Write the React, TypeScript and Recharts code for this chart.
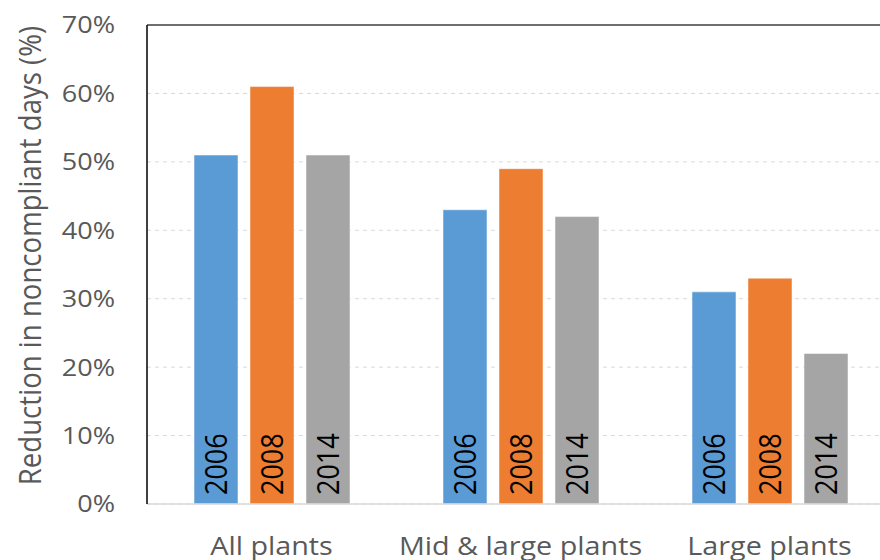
import React from 'react';
import { BarChart, Bar, XAxis, YAxis, CartesianGrid, ReferenceLine, LabelList, Label } from 'recharts';

const categories = ['All plants', 'Mid & large plants', 'Large plants'];
const years = ['2006', '2008', '2014'];
const values2006 = [51, 43, 31];
const values2008 = [61, 49, 33];
const values2014 = [51, 42, 22];
const yTicks = [0, 10, 20, 30, 40, 50, 60, 70];

const colors = ['#5b9bd5', '#ed7d31', '#a5a5a5'];
const textGray = '#595959';
const font = '"Open Sans", "DejaVu Sans", sans-serif';
// the reference is a bit wider than tall, so stretch text sideways
const SX = 1.15;

const data = categories.map((name, i) => ({
    name,
    y2006: values2006[i],
    y2008: values2008[i],
    y2014: values2014[i],
}));

const YTick: React.FC<any> = ({ x, y, payload }) => (
    <g transform={`translate(${x},${y}) scale(${SX},1)`}>
        <text x={0} y={0} dy="0.36em" textAnchor="end" fill={textGray} fontSize={23.5} fontFamily={font}>
            {`${payload.value}%`}
        </text>
    </g>
);

const XTick: React.FC<any> = ({ x, y, payload }) => (
    <g transform={`translate(${x},${y}) scale(${SX},1)`}>
        <text x={0} y={0} dy="0.71em" textAnchor="middle" fill={textGray} fontSize={25} fontFamily={font}>
            {payload.value}
        </text>
    </g>
);

const yearLabel = (year: string) => (props: any) => {
    const { x, y, width, height } = props;
    const cx = x + width / 2;
    const bottom = y + height - 9;
    return (
        <g transform={`translate(${cx},${bottom}) scale(${SX},1) rotate(-90)`}>
            <text x={0} y={0} dy="0.36em" textAnchor="start" fill="#000" fontSize={27} fontFamily={font}>
                {year}
            </text>
        </g>
    );
};

const AxisTitle: React.FC<any> = ({ viewBox }) => {
    const cx = viewBox.x + 30;
    const cy = viewBox.y + viewBox.height / 2 - 9;
    return (
        <g transform={`translate(${cx},${cy}) scale(${SX},1) rotate(-90)`}>
            <text x={0} y={0} dy="0.36em" textAnchor="middle" fill={textGray} fontSize={27.6} fontFamily={font}>
                Reduction in noncompliant days (%)
            </text>
        </g>
    );
};

const App: React.FC = () => {
    return (
        <div style={{ position: 'absolute', left: 0, top: 0, width: 880, height: 560, overflow: 'hidden', background: '#fff' }}>
            <BarChart
                width={894}
                height={560}
                data={data}
                margin={{ top: 25, right: 0, left: 0, bottom: 0 }}
                barCategoryGap={47}
                barGap={12}
            >
                <CartesianGrid vertical={false} stroke="#d9d9d9" strokeDasharray="4 4" />
                <XAxis
                    dataKey="name"
                    height={56}
                    axisLine={{ stroke: '#d9d9d9', strokeWidth: 1.5 }}
                    tickLine={false}
                    tickSize={0}
                    tickMargin={33}
                    tick={<XTick />}
                    interval={0}
                />
                <YAxis
                    width={147}
                    domain={[0, 70]}
                    ticks={yTicks}
                    axisLine={{ stroke: '#000', strokeWidth: 1.5 }}
                    tickLine={false}
                    tickSize={0}
                    tickMargin={32}
                    tick={<YTick />}
                    interval={0}
                >
                    <Label content={<AxisTitle />} />
                </YAxis>
                <ReferenceLine y={70} stroke="#6f6f6f" strokeWidth={2} />
                <Bar dataKey="y2006" fill={colors[0]} stroke="#ffffff" strokeOpacity={0.5} isAnimationActive={false}>
                    <LabelList dataKey="y2006" content={yearLabel(years[0])} />
                </Bar>
                <Bar dataKey="y2008" fill={colors[1]} stroke="#ffffff" strokeOpacity={0.5} isAnimationActive={false}>
                    <LabelList dataKey="y2008" content={yearLabel(years[1])} />
                </Bar>
                <Bar dataKey="y2014" fill={colors[2]} stroke="#ffffff" strokeOpacity={0.5} isAnimationActive={false}>
                    <LabelList dataKey="y2014" content={yearLabel(years[2])} />
                </Bar>
            </BarChart>
        </div>
    );
};

export default App;
